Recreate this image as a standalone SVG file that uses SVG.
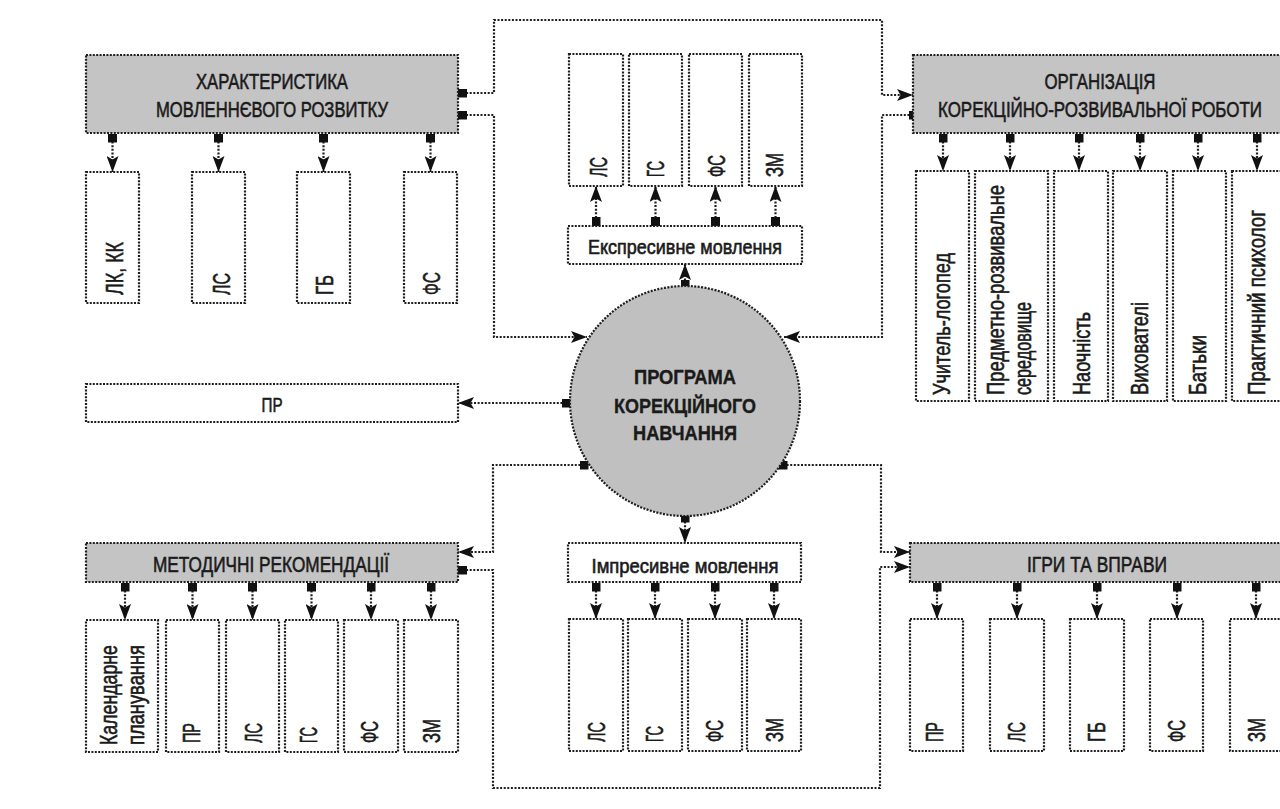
<svg xmlns="http://www.w3.org/2000/svg" width="1280" height="809" viewBox="0 0 1280 809">
<style>
.box{fill:#ffffff;stroke:#1e1e1e;stroke-width:2.2;stroke-dasharray:2 1.4}
.hdr{fill:#c4c4c4;stroke:#1e1e1e;stroke-width:2.2;stroke-dasharray:2 1.4}
.circ{fill:#c0c0c0;stroke:#1e1e1e;stroke-width:2.2;stroke-dasharray:2 1.4}
.ln{fill:none;stroke:#1e1e1e;stroke-width:2.2;stroke-dasharray:2 1.6}
.c{marker-end:url(#arr);marker-start:url(#sq)}
.t{font-family:"Liberation Sans Narrow","Liberation Sans",Arial,sans-serif;fill:#1a1a1a;stroke:#1a1a1a;stroke-width:0.6}
.h{font-size:22px;text-anchor:middle}
.v{font-size:23px}
.b{font-size:21px;font-weight:bold;text-anchor:middle;stroke-width:0.4}
.m{font-size:20px;text-anchor:middle}
</style>
<defs>
<marker id="arr" markerUnits="userSpaceOnUse" viewBox="0 0 16 12" markerWidth="16" markerHeight="12" refX="16" refY="6" orient="auto">
<path d="M0,0 L16,6 L0,12 L3.5,6 z" fill="#111"/>
</marker>
<marker id="sq" markerUnits="userSpaceOnUse" viewBox="0 0 9 9" markerWidth="9" markerHeight="9" refX="4.5" refY="4.5" orient="auto">
<rect x="0" y="0" width="9" height="9" fill="#111"/>
</marker>
</defs>
<rect x="0" y="0" width="1280" height="809" fill="#ffffff"/>

<g id="connectors">
<path class="ln c" d="M462.5,93 H494 V20 H882 V95 H913"/>
<path class="ln c" d="M462.5,115 H494 V337 H587"/>
<path class="ln c" d="M913,115 H882 V337 H784"/>
<path class="ln c" d="M685,284 V264"/>
<path class="ln c" d="M685,518 V543"/>
<path class="ln c" d="M566,403 H458"/>
<path class="ln c" d="M584,465 H493 V552 H458"/>
<path class="ln c" d="M783,465 H881 V552 H910"/>
<path class="ln c" d="M462.5,570 H493 V788 H880 V567 H910"/>
<path class="ln c" d="M112.5,138 V172"/>
<path class="ln c" d="M218.5,138 V172"/>
<path class="ln c" d="M323.5,138 V172"/>
<path class="ln c" d="M430.5,138 V172"/>
<path class="ln c" d="M596,221.5 V186"/>
<path class="ln c" d="M655.5,221.5 V186"/>
<path class="ln c" d="M715.5,221.5 V186"/>
<path class="ln c" d="M775.5,221.5 V186"/>
<path class="ln c" d="M943,138 V171"/>
<path class="ln c" d="M1010,138 V171"/>
<path class="ln c" d="M1079,138 V171"/>
<path class="ln c" d="M1140,138 V171"/>
<path class="ln c" d="M1198,138 V171"/>
<path class="ln c" d="M1257,138 V171"/>
<path class="ln c" d="M125,587 V620"/>
<path class="ln c" d="M192.5,587 V620"/>
<path class="ln c" d="M252.5,587 V620"/>
<path class="ln c" d="M311.5,587 V620"/>
<path class="ln c" d="M371,587 V620"/>
<path class="ln c" d="M431,587 V620"/>
<path class="ln c" d="M596,587 V619"/>
<path class="ln c" d="M655,587 V619"/>
<path class="ln c" d="M715,587 V619"/>
<path class="ln c" d="M774,587 V619"/>
<path class="ln c" d="M937,587 V619"/>
<path class="ln c" d="M1017,587 V619"/>
<path class="ln c" d="M1097,587 V619"/>
<path class="ln c" d="M1177,587 V619"/>
<path class="ln c" d="M1256,587 V619"/>
</g>

<g id="n-characteristic">
<rect class="hdr" x="86" y="55" width="372" height="78"/>
<text class="t h" x="272" y="89" textLength="152" lengthAdjust="spacingAndGlyphs">ХАРАКТЕРИСТИКА</text>
<text class="t h" x="272" y="117" textLength="232" lengthAdjust="spacingAndGlyphs">МОВЛЕННЄВОГО РОЗВИТКУ</text>
</g>
<g id="n-ch-lkkk"><rect class="box" x="86" y="172" width="53" height="131"/>
<text class="t v" transform="translate(123,295) rotate(-90)" textLength="53" lengthAdjust="spacingAndGlyphs">ЛК, КК</text></g>
<g id="n-ch-ls"><rect class="box" x="192" y="172" width="53" height="131"/>
<text class="t v" transform="translate(230,295) rotate(-90)" textLength="22" lengthAdjust="spacingAndGlyphs">ЛС</text></g>
<g id="n-ch-gb"><rect class="box" x="297" y="172" width="53" height="131"/>
<text class="t v" transform="translate(333,295) rotate(-90)" textLength="20" lengthAdjust="spacingAndGlyphs">ГБ</text></g>
<g id="n-ch-fs"><rect class="box" x="404" y="172" width="53" height="131"/>
<text class="t v" transform="translate(440,295) rotate(-90)" textLength="23" lengthAdjust="spacingAndGlyphs">ФС</text></g>

<g id="n-ex-ls"><rect class="box" x="569" y="54" width="54" height="132"/>
<text class="t v" transform="translate(607,177) rotate(-90)" textLength="20" lengthAdjust="spacingAndGlyphs">ЛС</text></g>
<g id="n-ex-gs"><rect class="box" x="629" y="54" width="53" height="132"/>
<text class="t v" transform="translate(664,177) rotate(-90)" textLength="16" lengthAdjust="spacingAndGlyphs">ГС</text></g>
<g id="n-ex-fs"><rect class="box" x="689" y="54" width="53" height="132"/>
<text class="t v" transform="translate(725,177) rotate(-90)" textLength="22" lengthAdjust="spacingAndGlyphs">ФС</text></g>
<g id="n-ex-zm"><rect class="box" x="749" y="54" width="53" height="132"/>
<text class="t v" transform="translate(783,177) rotate(-90)" textLength="24" lengthAdjust="spacingAndGlyphs">ЗМ</text></g>
<g id="n-expressive"><rect class="box" x="568" y="226" width="234" height="38"/>
<text class="t m" x="685" y="254" textLength="194" lengthAdjust="spacingAndGlyphs">Експресивне мовлення</text></g>

<g id="n-organization">
<rect class="hdr" x="913" y="55" width="380" height="78"/>
<text class="t h" x="1100" y="89" textLength="111" lengthAdjust="spacingAndGlyphs">ОРГАНІЗАЦІЯ</text>
<text class="t h" x="1100" y="117" textLength="324" lengthAdjust="spacingAndGlyphs">КОРЕКЦІЙНО-РОЗВИВАЛЬНОЇ РОБОТИ</text>
</g>
<g id="n-org-1"><rect class="box" x="916" y="171" width="53" height="230"/>
<text class="t v" transform="translate(950,395) rotate(-90)" textLength="142" lengthAdjust="spacingAndGlyphs">Учитель-логопед</text></g>
<g id="n-org-2"><rect class="box" x="975" y="171" width="73" height="230"/>
<text class="t v" transform="translate(1004,395) rotate(-90)" textLength="210" lengthAdjust="spacingAndGlyphs">Предметно-розвивальне</text>
<text class="t v" transform="translate(1031,395) rotate(-90)" textLength="93" lengthAdjust="spacingAndGlyphs">середовище</text></g>
<g id="n-org-3"><rect class="box" x="1054" y="171" width="54" height="230"/>
<text class="t v" transform="translate(1090,395) rotate(-90)" textLength="83" lengthAdjust="spacingAndGlyphs">Наочність</text></g>
<g id="n-org-4"><rect class="box" x="1113" y="171" width="54" height="230"/>
<text class="t v" transform="translate(1148,395) rotate(-90)" textLength="93" lengthAdjust="spacingAndGlyphs">Вихователі</text></g>
<g id="n-org-5"><rect class="box" x="1173" y="171" width="53" height="230"/>
<text class="t v" transform="translate(1206,395) rotate(-90)" textLength="60" lengthAdjust="spacingAndGlyphs">Батьки</text></g>
<g id="n-org-6"><rect class="box" x="1232" y="171" width="60" height="230"/>
<text class="t v" transform="translate(1265,395) rotate(-90)" textLength="185" lengthAdjust="spacingAndGlyphs">Практичний психолог</text></g>

<g id="n-program">
<circle class="circ" cx="685" cy="401" r="115"/>
<text class="t b" x="685" y="384" textLength="102" lengthAdjust="spacingAndGlyphs">ПРОГРАМА</text>
<text class="t b" x="685" y="413" textLength="142" lengthAdjust="spacingAndGlyphs">КОРЕКЦІЙНОГО</text>
<text class="t b" x="685" y="440" textLength="104" lengthAdjust="spacingAndGlyphs">НАВЧАННЯ</text>
</g>

<g id="n-pr"><rect class="box" x="86" y="384" width="372" height="38"/>
<text class="t m" x="272" y="412" textLength="21" lengthAdjust="spacingAndGlyphs">ПР</text></g>

<g id="n-methodical">
<rect class="hdr" x="86" y="543" width="372" height="39"/>
<text class="t h" x="271" y="572" textLength="236" lengthAdjust="spacingAndGlyphs">МЕТОДИЧНІ РЕКОМЕНДАЦІЇ</text>
</g>
<g id="n-me-cal"><rect class="box" x="86" y="620" width="72" height="132"/>
<text class="t v" transform="translate(117,745) rotate(-90)" textLength="100" lengthAdjust="spacingAndGlyphs">Календарне</text>
<text class="t v" transform="translate(144,745) rotate(-90)" textLength="100" lengthAdjust="spacingAndGlyphs">планування</text></g>
<g id="n-me-pr"><rect class="box" x="166" y="620" width="53" height="132"/>
<text class="t v" transform="translate(200,743) rotate(-90)" textLength="20" lengthAdjust="spacingAndGlyphs">ПР</text></g>
<g id="n-me-ls"><rect class="box" x="226" y="620" width="53" height="132"/>
<text class="t v" transform="translate(262,743) rotate(-90)" textLength="20" lengthAdjust="spacingAndGlyphs">ЛС</text></g>
<g id="n-me-gs"><rect class="box" x="285" y="620" width="53" height="132"/>
<text class="t v" transform="translate(317,743) rotate(-90)" textLength="16" lengthAdjust="spacingAndGlyphs">ГС</text></g>
<g id="n-me-fs"><rect class="box" x="344" y="620" width="54" height="132"/>
<text class="t v" transform="translate(378,743) rotate(-90)" textLength="22" lengthAdjust="spacingAndGlyphs">ФС</text></g>
<g id="n-me-zm"><rect class="box" x="404" y="620" width="54" height="132"/>
<text class="t v" transform="translate(440,743) rotate(-90)" textLength="24" lengthAdjust="spacingAndGlyphs">ЗМ</text></g>

<g id="n-impressive"><rect class="box" x="568" y="543" width="233" height="39"/>
<text class="t m" x="685" y="573" textLength="187" lengthAdjust="spacingAndGlyphs">Імпресивне мовлення</text></g>
<g id="n-im-ls"><rect class="box" x="569" y="619" width="54" height="132"/>
<text class="t v" transform="translate(605,742) rotate(-90)" textLength="20" lengthAdjust="spacingAndGlyphs">ЛС</text></g>
<g id="n-im-gs"><rect class="box" x="628" y="619" width="54" height="132"/>
<text class="t v" transform="translate(663,742) rotate(-90)" textLength="16" lengthAdjust="spacingAndGlyphs">ГС</text></g>
<g id="n-im-fs"><rect class="box" x="688" y="619" width="54" height="132"/>
<text class="t v" transform="translate(723,742) rotate(-90)" textLength="22" lengthAdjust="spacingAndGlyphs">ФС</text></g>
<g id="n-im-zm"><rect class="box" x="747" y="619" width="54" height="132"/>
<text class="t v" transform="translate(783,742) rotate(-90)" textLength="24" lengthAdjust="spacingAndGlyphs">ЗМ</text></g>

<g id="n-games">
<rect class="hdr" x="910" y="543" width="380" height="39"/>
<text class="t h" x="1097" y="572" textLength="140" lengthAdjust="spacingAndGlyphs">ІГРИ ТА ВПРАВИ</text>
</g>
<g id="n-ga-pr"><rect class="box" x="910" y="619" width="53" height="132"/>
<text class="t v" transform="translate(943,742) rotate(-90)" textLength="20" lengthAdjust="spacingAndGlyphs">ПР</text></g>
<g id="n-ga-ls"><rect class="box" x="990" y="619" width="54" height="132"/>
<text class="t v" transform="translate(1025,742) rotate(-90)" textLength="20" lengthAdjust="spacingAndGlyphs">ЛС</text></g>
<g id="n-ga-gb"><rect class="box" x="1070" y="619" width="54" height="132"/>
<text class="t v" transform="translate(1105,742) rotate(-90)" textLength="20" lengthAdjust="spacingAndGlyphs">ГБ</text></g>
<g id="n-ga-fs"><rect class="box" x="1150" y="619" width="53" height="132"/>
<text class="t v" transform="translate(1185,742) rotate(-90)" textLength="22" lengthAdjust="spacingAndGlyphs">ФС</text></g>
<g id="n-ga-zm"><rect class="box" x="1230" y="619" width="60" height="132"/>
<text class="t v" transform="translate(1265,742) rotate(-90)" textLength="24" lengthAdjust="spacingAndGlyphs">ЗМ</text></g>
</svg>
